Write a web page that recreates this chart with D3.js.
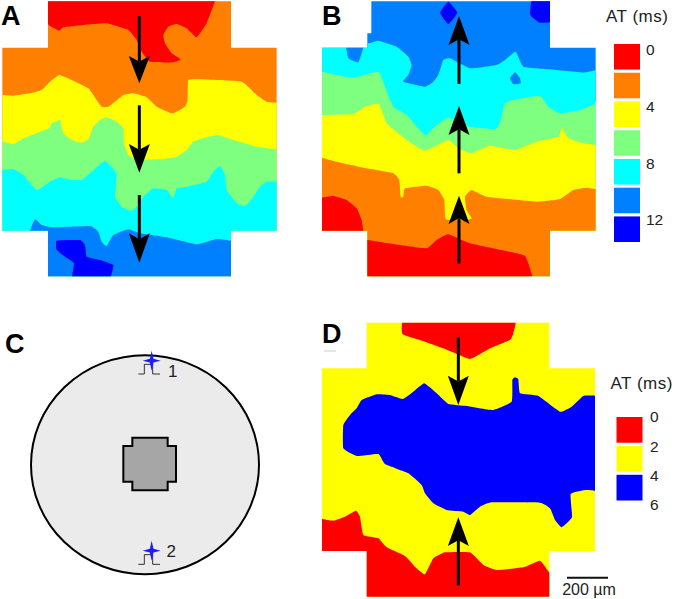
<!DOCTYPE html>
<html>
<head>
<meta charset="utf-8">
<title>Activation time maps</title>
<script src="https://d3js.org/d3.v7.min.js"></script>
<style>
body { margin:0; background:#fff; }
text { font-family:"Liberation Sans", Arial, sans-serif; fill:#222; }
.letter { font-weight:bold; fill:#000; font-size:27px; }
</style>
</head>
<body>
<script>
// colours of the AT levels, earliest first
var levelColors = ["#ff0000","#ff7f00","#ffff00","#7fff7f","#00ffff","#007fff","#0000ff"];
var twoMsColors = ["#ff0000","#ffff00","#0000ff"];
var ticksB = [0,4,8,12];
var ticksD = [0,2,4,6];

// contours, one unit = 1/3 px
// panel A, top to bottom
var aRed = [[144,-20],[144,72],[178,92],[190,82],[250,75],[320,70],[385,90],[410,120],[425,155],[450,185],[520,187],[542,178],[515,160],[495,130],[490,105],[505,80],[530,72],[560,85],[590,112],[620,70],[645,4],[650,-20]];
var aYellow = [[7,285],[40,287],[90,280],[125,270],[150,245],[178,225],[215,240],[265,265],[290,300],[305,320],[325,320],[345,305],[370,285],[400,280],[440,292],[470,320],[517,340],[555,320],[563,300],[565,240],[600,238],[725,245],[770,285],[800,305],[830,308],[850,310],[850,850],[-10,850],[-10,285]];
var aGreen = [[7,424],[40,433],[70,415],[120,395],[148,385],[155,370],[180,360],[190,400],[215,420],[245,428],[265,418],[280,380],[300,360],[320,352],[350,365],[370,385],[372,430],[385,465],[410,478],[480,478],[530,470],[560,450],[580,425],[620,412],[655,405],[700,420],[770,440],[830,448],[850,450],[850,850],[-10,850],[-10,420]];
var aCyan = [[7,510],[40,507],[70,525],[110,570],[150,545],[180,532],[215,540],[245,540],[275,515],[315,483],[350,520],[345,590],[365,620],[395,633],[420,610],[430,590],[460,565],[500,570],[520,595],[530,565],[560,560],[620,545],[640,515],[660,498],[675,525],[680,570],[710,610],[735,618],[760,590],[780,560],[800,545],[830,545],[850,545],[850,850],[-10,850],[-10,510]];
var aBlue = [[90,695],[105,658],[125,675],[160,682],[270,678],[295,695],[305,725],[320,738],[340,705],[385,688],[420,700],[500,712],[590,733],[650,717],[693,722],[720,722],[720,850],[120,850],[120,720]];
var aDark = [[170,722],[240,720],[255,735],[260,770],[300,780],[340,795],[333,829],[330,850],[217,850],[222,790],[195,770],[170,750]];

// panel B, bottom to top
var bBlueTop = [[20,-20],[880,-20],[880,300],[20,300]];
var bDark1 = [[390,38],[415,5],[442,38],[415,72]];
var bDark2 = [[660,40],[668,-10],[740,-10],[740,62],[690,68],[665,50]];
var bCyan = [[20,130],[172,130],[205,122],[260,140],[295,170],[305,195],[295,225],[280,245],[345,260],[370,245],[385,225],[400,180],[420,175],[480,205],[560,195],[585,180],[617,155],[640,200],[720,208],[820,218],[857,210],[880,210],[880,850],[20,850]];
var bBlue1 = [[108,130],[115,175],[145,187],[162,130]];
var bBlue2 = [[600,235],[615,217],[630,235],[632,250],[610,253]];
var bGreen = [[20,213],[36,215],[80,225],[130,233],[205,215],[225,260],[250,320],[290,345],[345,405],[380,375],[415,353],[480,380],[555,387],[570,370],[585,310],[620,298],[690,287],[715,320],[750,340],[810,330],[857,312],[880,312],[880,850],[20,850]];
var bYellow = [[20,345],[36,345],[130,342],[165,320],[207,312],[230,370],[290,420],[345,452],[415,420],[445,445],[482,460],[540,437],[615,450],[680,425],[745,410],[757,383],[775,415],[820,430],[857,435],[880,435],[880,850],[20,850]];
var bOrange = [[20,470],[36,473],[80,485],[170,505],[250,520],[268,540],[272,590],[280,590],[285,565],[350,557],[385,570],[403,600],[408,658],[470,660],[485,655],[470,630],[465,590],[485,570],[530,590],[680,605],[750,597],[790,570],[830,563],[857,567],[880,567],[880,850],[20,850]];
var bRed1 = [[20,595],[36,593],[70,588],[110,600],[140,625],[155,660],[160,692],[165,720],[20,720]];
var bRed2 = [[150,716],[172,720],[270,735],[350,745],[380,720],[415,703],[480,730],[640,765],[655,790],[667,829],[672,850],[150,850]];

// panel D
var dRedTop = [[290,20],[277,72],[330,90],[400,115],[480,147],[540,115],[600,90],[610,70],[608,20]];
var dBlue = [[100,345],[120,315],[140,295],[155,270],[200,253],[240,255],[278,267],[310,245],[343,220],[380,250],[415,282],[470,288],[548,300],[605,275],[607,210],[615,202],[625,208],[630,250],[685,258],[750,305],[785,290],[820,258],[855,257],[880,257],[880,542],[855,542],[825,540],[782,552],[786,622],[755,652],[735,630],[720,595],[690,578],[545,577],[510,590],[480,615],[460,605],[410,600],[370,580],[345,550],[335,525],[295,490],[225,462],[205,432],[140,438],[100,415]];
var dRedLow = [[20,625],[36,627],[70,632],[105,620],[138,602],[150,620],[160,675],[205,685],[230,712],[285,738],[315,770],[345,793],[370,745],[405,727],[480,727],[520,765],[560,780],[640,772],[690,752],[718,787],[740,800],[740,880],[20,880]];

// outlines of the tissue, same units
var outlineA = [[144,4],[693,4],[693,143],[830,143],[830,692],[693,692],[693,829],[144,829],[144,692],[7,692],[7,143],[144,143]];
var outlineB = [[184,4],[720,4],[720,143],[857,143],[857,692],[720,692],[720,829],[172,829],[172,692],[36,692],[36,143],[172,143],[172,100],[184,100]];
var outlineD = [[170,38],[718,38],[718,175],[855,175],[855,723],[718,723],[718,860],[170,860],[170,723],[36,723],[36,175],[170,175]];
var coreC = [[397,383],[503,383],[503,408],[528,408],[528,515],[503,515],[503,541],[397,541],[397,515],[370,515],[370,408],[397,408]];

// arrows: x, start, tip, back of the head
var arrowsA = [[418,48,250,168],[418,316,518,432],[418,585,788,700]];
var arrowsB = [[447,252,48,135],[447,520,318,405],[447,790,587,672]];
var arrowsD = [[445,82,285,197],[445,826,622,708]];

var width = 675, height = 599;
var svg = d3.select("body").append("svg").attr("width", width).attr("height", height);
var defs = svg.append("defs");
defs.append("filter").attr("id","soft").attr("x","-5%").attr("y","-5%").attr("width","110%").attr("height","110%")
	.append("feGaussianBlur").attr("stdDeviation",0.45);

// panels B, C, D sit at these offsets in the page
var xL = d3.scaleLinear().domain([0,3]).range([0,1]);
var xR = d3.scaleLinear().domain([0,3]).range([310,311]);
var yT = d3.scaleLinear().domain([0,3]).range([0,1]);
var yB = d3.scaleLinear().domain([0,3]).range([310,311]);

function poly(x, y) {
	return d3.line().x(function(d){ return x(d[0]); }).y(function(d){ return y(d[1]); });
}

function drawMap(id, x, y, outline, regions, arrows) {
	var line = poly(x, y);
	var smooth = poly(x, y).curve(d3.curveCardinalClosed.tension(0.65));
	defs.append("clipPath").attr("id", id).append("path").attr("d", line(outline) + "Z");
	var g = svg.append("g").attr("filter","url(#soft)").append("g").attr("clip-path","url(#" + id + ")");
	g.selectAll("path").data(regions).enter().append("path")
		.attr("d", function(d){ return smooth(d.pts); })
		.attr("fill", function(d){ return d.color; });

	var a = svg.append("g");
	arrows.forEach(function(d){
		var px = x(d[0]), y0 = y(d[1]), tip = y(d[2]), back = y(d[3]);
		var notch = back + (tip - back) * 0.2;
		a.append("line").attr("x1",px).attr("x2",px).attr("y1",y0).attr("y2",notch)
			.attr("stroke","#000").attr("stroke-width",3);
		a.append("path").attr("fill","#000")
			.attr("d", d3.line()([[px,tip],[px+10.5,back],[px,notch],[px-10.5,back]]) + "Z");
	});
}

function drawLegend(x0, yBand, colors, ticks, yTick, tx, title, titleX, titleY) {
	svg.append("g").selectAll("rect").data(colors).enter().append("rect")
		.attr("x", x0).attr("width", 26)
		.attr("y", function(d,i){ return yBand(i); })
		.attr("height", yBand.bandwidth())
		.attr("fill", function(d){ return d; });
	svg.append("g").selectAll("text").data(ticks).enter().append("text")
		.attr("x", tx).attr("y", function(d){ return yTick(d); })
		.attr("dy","0.35em").attr("font-size",15.5).text(function(d){ return d; });
	svg.append("text").attr("x",titleX).attr("y",titleY).attr("dy","0.35em")
		.attr("font-size",17).attr("letter-spacing",0.5).text(title);
}

// A
var cA = levelColors;
drawMap("mapA", xL, yT, outlineA, [
	{pts:[[-20,-20],[850,-20],[850,850],[-20,850]], color:cA[1]},
	{pts:aRed, color:cA[0]},
	{pts:aYellow, color:cA[2]},
	{pts:aGreen, color:cA[3]},
	{pts:aCyan, color:cA[4]},
	{pts:aBlue, color:cA[5]},
	{pts:aDark, color:cA[6]}
], arrowsA);

// B
drawMap("mapB", xR, yT, outlineB, [
	{pts:bBlueTop, color:cA[5]},
	{pts:bDark1, color:cA[6]},
	{pts:bDark2, color:cA[6]},
	{pts:bCyan, color:cA[4]},
	{pts:bBlue1, color:cA[5]},
	{pts:bBlue2, color:cA[5]},
	{pts:bGreen, color:cA[3]},
	{pts:bYellow, color:cA[2]},
	{pts:bOrange, color:cA[1]},
	{pts:bRed1, color:cA[0]},
	{pts:bRed2, color:cA[0]}
], arrowsB);

// D, offset in x and y
drawMap("mapD", xR, yB, outlineD, [
	{pts:[[0,0],[900,0],[900,900],[0,900]], color:twoMsColors[1]},
	{pts:dRedTop, color:twoMsColors[0]},
	{pts:dBlue, color:twoMsColors[2]},
	{pts:dRedLow, color:twoMsColors[0]}
], arrowsD);

// C, the slice with the inner recording area
var c = svg.append("g").attr("filter","url(#soft)");
c.append("ellipse").attr("cx",xL(435)).attr("cy",yB(464)).attr("rx",114).attr("ry",109.5)
	.attr("fill","#ebebeb").attr("stroke","#000").attr("stroke-width",2);
c.append("path").attr("d", poly(xL,yB)(coreC) + "Z")
	.attr("fill","#a6a6a6").attr("stroke","#000").attr("stroke-width",2);

[[455,152,192,"1",518,182],[455,722,763,"2",514,722]].forEach(function(d){
	var sx = xL(d[0]), sy = yB(d[1]), base = d[2], top = base - 29;
	c.append("path").attr("fill","none").attr("stroke","#333").attr("stroke-width",1)
		.attr("d", poly(xL,yB)([[415,base],[433,base],[433,top],[458,top],[458,base],[480,base]]));
	c.append("path").attr("fill","#1a1aff")
		.attr("d", d3.line()([[sx,sy-10],[sx+1.8,sy-1.8],[sx+9,sy],[sx+1.8,sy+1.8],[sx,sy+10],[sx-1.8,sy+1.8],[sx-9,sy],[sx-1.8,sy-1.8]]) + "Z");
	svg.append("text").attr("x",xL(d[4])).attr("y",yB(d[5])).attr("dy","0.35em")
		.attr("text-anchor","middle").attr("font-size",17).text(d[3]);
});

// legends
var bandB = d3.scaleBand().domain(d3.range(levelColors.length)).range([44,242]).paddingInner(0.11);
drawLegend(614, bandB, levelColors, ticksB, d3.scaleLinear().domain([0,12]).range([50,220]), 646, "AT (ms)", 606, 16);
var bandD = d3.scaleBand().domain(d3.range(twoMsColors.length)).range([417,500.5]).paddingInner(0.11);
drawLegend(616.5, bandD, twoMsColors, ticksD, d3.scaleLinear().domain([0,6]).range([417,505]), 650, "AT (ms)", 610.5, 383);

// panel letters
[["A",1,25],["B",322,25],["C",5,353],["D",322,343]].forEach(function(d){
	svg.append("text").attr("class","letter").attr("x",d[1]).attr("y",d[2]).text(d[0]);
});
svg.append("line").attr("x1",324).attr("x2",336).attr("y1",351).attr("y2",351).attr("stroke","#ccc");

// scale bar
svg.append("line").attr("x1",567).attr("x2",608).attr("y1",577.7).attr("y2",577.7).attr("stroke","#111").attr("stroke-width",2);
svg.append("text").attr("x",589).attr("y",589).attr("dy","0.35em").attr("text-anchor","middle").attr("font-size",16).text("200 µm");
</script>
</body>
</html>
